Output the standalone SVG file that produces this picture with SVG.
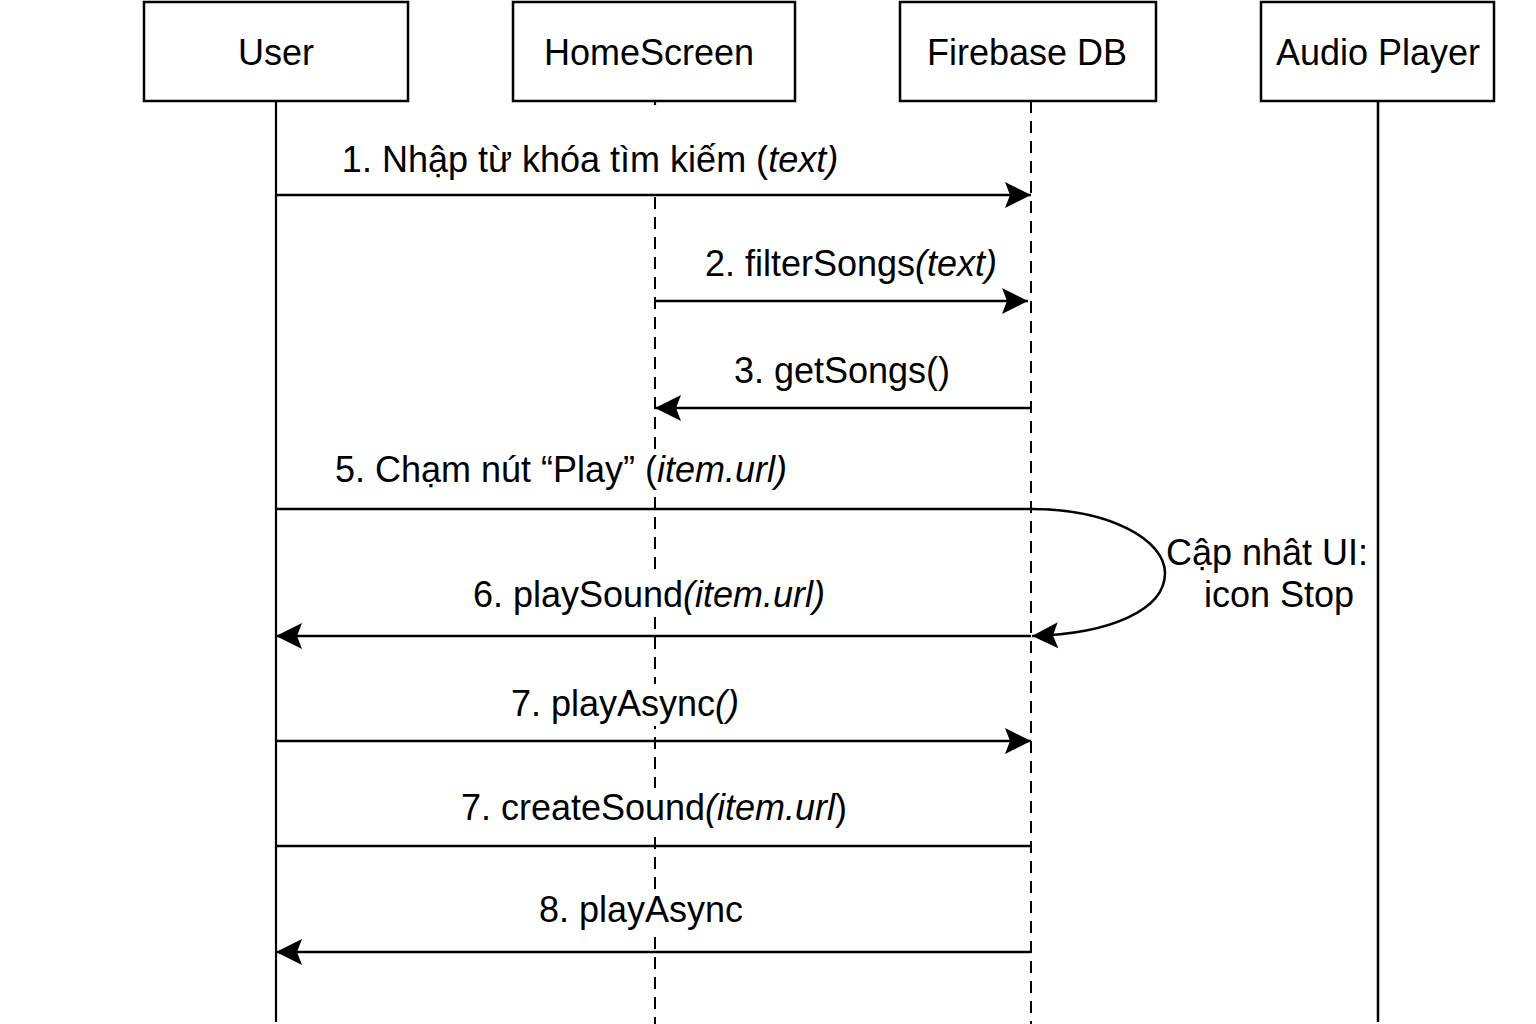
<svg xmlns="http://www.w3.org/2000/svg" width="1536" height="1024" viewBox="0 0 1536 1024">
<style>
  text { font-family: "Liberation Sans", Arial, sans-serif; font-size: 36px; fill: #000; }
  .lbl { text-anchor: middle; }
  .it { font-style: italic; }
  .bg { fill: #fff; stroke: none; }
  .box { fill: #fff; stroke: #000; stroke-width: 2.5; }
  .life { stroke: #000; stroke-width: 2.2; fill: none; }
  .dash { stroke: #000; stroke-width: 2; stroke-dasharray: 12 8; fill: none; }
  .msg { stroke: #000; stroke-width: 2.5; fill: none; }
</style>
<defs>
  <marker id="arr" markerUnits="userSpaceOnUse" markerWidth="28" markerHeight="28" refX="26" refY="13" orient="auto" overflow="visible">
    <path d="M0,0 L26,13 L0,26 L5,13 Z" fill="#000"/>
  </marker>
</defs>
<rect width="1536" height="1024" fill="#fff"/>

<g id="lifelines">
  <line class="life" x1="276" y1="101" x2="276" y2="1022"/>
  <line class="life" x1="655" y1="101" x2="655" y2="105"/>
  <line class="dash" x1="655" y1="197" x2="655" y2="1024"/>
  <line class="dash" x1="1031" y1="101" x2="1031" y2="1024"/>
  <line class="life" x1="1378" y1="101" x2="1378" y2="1022" style="stroke-width:2.5"/>
</g>

<g id="node-user">
  <rect class="box" x="144" y="2" width="264" height="99"/>
  <text class="lbl" x="276" y="65">User</text>
</g>
<g id="node-homescreen">
  <rect class="box" x="513" y="2" width="282" height="99"/>
  <text class="lbl" x="649" y="65">HomeScreen</text>
</g>
<g id="node-firebase">
  <rect class="box" x="900" y="2" width="256" height="99"/>
  <text class="lbl" x="1027" y="65">Firebase DB</text>
</g>
<g id="node-audio">
  <rect class="box" x="1261" y="2" width="233" height="99"/>
  <text class="lbl" x="1378" y="65">Audio Player</text>
</g>

<g id="connectors">
  <line class="msg" x1="276" y1="195" x2="1031" y2="195" marker-end="url(#arr)"/>
  <line class="msg" x1="655" y1="301" x2="1028" y2="301" marker-end="url(#arr)"/>
  <line class="msg" x1="1031" y1="408" x2="655" y2="408" marker-end="url(#arr)"/>
  <path class="msg" d="M276,509 L1031,509 C1110,509 1165,540 1165,573 C1165,610 1110,634 1032,636" marker-end="url(#arr)"/>
  <line class="msg" x1="1031" y1="636" x2="276" y2="636" marker-end="url(#arr)"/>
  <line class="msg" x1="276" y1="741" x2="1031" y2="741" marker-end="url(#arr)"/>
  <line class="msg" x1="276" y1="846" x2="1031" y2="846"/>
  <line class="msg" x1="1031" y1="952" x2="276" y2="952" marker-end="url(#arr)"/>
</g>

<g id="labels">
  <rect class="bg" x="322" y="450" width="488" height="42"/>
  <rect class="bg" x="458" y="575" width="382" height="42"/>
  <rect class="bg" x="500" y="684" width="250" height="42"/>
  <rect class="bg" x="444" y="788" width="420" height="42"/>
  <rect class="bg" x="530" y="890" width="222" height="42"/>
  <text class="lbl" x="590" y="172">1. Nhập từ khóa tìm kiếm (<tspan class="it">text)</tspan></text>
  <text class="lbl" x="851" y="276">2. filterSongs<tspan class="it">(text)</tspan></text>
  <text class="lbl" x="842" y="383">3. getSongs()</text>
  <text class="lbl" x="561" y="482">5. Chạm nút “Play” (<tspan class="it">item.url)</tspan></text>
  <text class="lbl" x="649" y="607">6. playSound<tspan class="it">(item.url)</tspan></text>
  <text class="lbl" x="1267" y="565">Cập nhât UI:</text>
  <text class="lbl" x="1279" y="607">icon Stop</text>
  <text class="lbl" x="625" y="716">7. playAsync<tspan class="it">()</tspan></text>
  <text class="lbl" x="654" y="820">7. createSound<tspan class="it">(item.url</tspan>)</text>
  <text class="lbl" x="641" y="922">8. playAsync</text>
</g>
</svg>
